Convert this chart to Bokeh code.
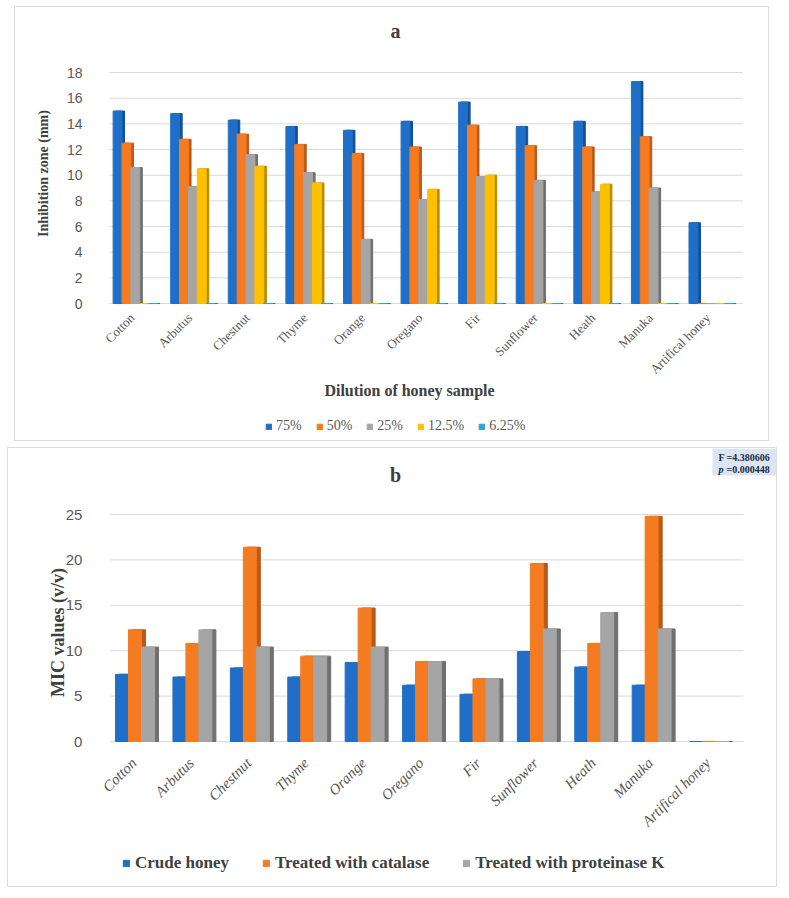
import math
from bokeh.plotting import figure
from bokeh.models import (ColumnDataSource, Range1d, FixedTicker, Legend,
                          LegendItem, Label, BoxAnnotation)
from bokeh.transform import dodge
from bokeh.layouts import column
from bokeh.embed import file_html
from bokeh.resources import INLINE

# ---------------- data ----------------
honeys = ["Cotton", "Arbutus", "Chestnut", "Thyme", "Orange", "Oregano",
          "Fir", "Sunflower", "Heath", "Manuka", "Artifical honey"]

dilution_labels = ["75%", "50%", "25%", "12.5%", "6.25%"]
zone_75 = [15.0, 14.8, 14.3, 13.8, 13.5, 14.2, 15.7, 13.8, 14.2, 17.3, 6.3]
zone_50 = [12.5, 12.8, 13.2, 12.4, 11.7, 12.2, 13.9, 12.3, 12.2, 13.0, 0]
zone_25 = [10.6, 9.1, 11.6, 10.2, 5.0, 8.1, 9.9, 9.6, 8.7, 9.0, 0]
zone_12_5 = [0, 10.5, 10.7, 9.4, 0, 8.9, 10.0, 0, 9.3, 0, 0]
zone_6_25 = [0, 0, 0, 0, 0, 0, 0, 0, 0, 0, 0]
zone_ticks = [0, 2, 4, 6, 8, 10, 12, 14, 16, 18]

mic_labels = ["Crude honey", "Treated with catalase", "Treated with proteinase K"]
mic_crude = [7.4, 7.1, 8.1, 7.1, 8.7, 6.2, 5.2, 9.9, 8.2, 6.2, 0]
mic_catalase = [12.3, 10.8, 21.4, 9.4, 14.7, 8.8, 6.9, 19.6, 10.8, 24.8, 0]
mic_proteinase = [10.4, 12.3, 10.4, 9.4, 10.4, 8.8, 6.9, 12.4, 14.2, 12.4, 0]
mic_ticks = [0, 5, 10, 15, 20, 25]

stat_F = "=4.380606"
stat_p = "=0.000448"

# ---------------- styles ----------------
SERIF = "Liberation Serif"
SANS = "Liberation Sans"
TICK_COLOR = "#595959"
LABEL_COLOR = "#404040"
GRID = "#d9d9d9"

faces_a = ["#1f6fc8", "#f47b20", "#a5a5a5", "#ffc000", "#2ba3db"]
sides_a = ["#134f96", "#b9591a", "#707070", "#b98a00", "#1e7aa8"]
faces_b = faces_a[:3]
sides_b = sides_a[:3]

positions = list(range(len(honeys)))


def base_fig(width, height, xr, yr, margin):
    p = figure(width=width, height=height, x_range=Range1d(*xr), y_range=Range1d(*yr),
               title=None, output_backend="svg", toolbar_location=None,
               min_border=0, margin=margin)
    p.styles = {"border": "1px solid #dcdcdc"}
    p.xgrid.visible = False
    p.ygrid.visible = False
    p.xaxis.visible = False
    p.outline_line_color = None
    for ax in p.yaxis:
        ax.axis_line_color = None
        ax.major_tick_line_color = None
        ax.minor_tick_line_color = None
        ax.fixed_location = -0.5
    return p


def lab(p, text, x, y, size, style="bold", color=LABEL_COLOR, angle=0.0,
        align="center", baseline="middle"):
    p.add_layout(Label(x=x, y=y, x_units="screen", y_units="screen", text=text,
                       text_font=SERIF, text_font_style=style, text_font_size=size,
                       text_color=color, angle=angle, text_align=align,
                       text_baseline=baseline))


# ---------------- panel a ----------------
pa = base_fig(755, 435, (-2.08, 11.03), (-10.83, 23.07), (6, 0, 6, 14))

pa.segment(x0=-0.45, x1=10.55, y0=zone_ticks, y1=zone_ticks, line_color=GRID, line_width=1)

src_a = ColumnDataSource(dict(pos=positions, name=honeys, s0=zone_75, s1=zone_50,
                              s2=zone_25, s3=zone_12_5, s4=zone_6_25))
step_a = 0.154
rend_a = []
for i in range(5):
    off = (i - 2) * step_a
    pa.vbar(x=dodge("pos", off + 0.045), top="s%d" % i, width=step_a, source=src_a,
            fill_color=sides_a[i], line_color=sides_a[i], line_width=1)
    r = pa.vbar(x=dodge("pos", off), top="s%d" % i, width=step_a, source=src_a,
                fill_color=faces_a[i], line_color=faces_a[i], line_width=1)
    rend_a.append(r)

# category labels (rotated, end anchored under each group)
pa.text(x="pos", y=0, text="name", source=src_a, angle=math.pi / 4,
        x_offset=-3, y_offset=12, text_align="right", text_baseline="middle",
        text_font=SERIF, text_font_size="13px", text_color=TICK_COLOR)

pa.yaxis.ticker = FixedTicker(ticks=zone_ticks)
pa.yaxis.major_label_text_font = SANS
pa.yaxis.major_label_text_font_size = "14px"
pa.yaxis.major_label_text_color = TICK_COLOR
pa.yaxis.major_label_standoff = 18

lab(pa, "a", 380, 412, "20px")
lab(pa, "Inhibition zone (mm)", 28, 269, "14px", angle=math.pi / 2)
lab(pa, "Dilution of honey sample", 394, 52, "16px")

leg_a = Legend(items=[LegendItem(label=l, renderers=[r]) for l, r in zip(dilution_labels, rend_a)],
               orientation="horizontal", location=(250, 8),
               glyph_width=7, glyph_height=7, label_height=14, label_standoff=4,
               spacing=14, padding=0, margin=0, border_line_color=None,
               background_fill_alpha=0, label_text_font=SERIF,
               label_text_font_size="14px", label_text_color=TICK_COLOR)
pa.add_layout(leg_a)

# ---------------- panel b ----------------
pb = base_fig(770, 440, (-2.204, 11.21), (-16.19, 32.27), (0, 0, 0, 7))

pb.segment(x0=-0.43, x1=10.6, y0=mic_ticks, y1=mic_ticks, line_color=GRID, line_width=1)

src_b = ColumnDataSource(dict(pos=positions, name=honeys, s0=mic_crude,
                              s1=mic_catalase, s2=mic_proteinase))
step_b = 0.226
rend_b = []
for i in range(3):
    off = (i - 1) * step_b
    pb.vbar(x=dodge("pos", off + 0.07), top="s%d" % i, width=step_b, source=src_b,
            fill_color=sides_b[i], line_color=sides_b[i], line_width=1)
    r = pb.vbar(x=dodge("pos", off), top="s%d" % i, width=step_b, source=src_b,
                fill_color=faces_b[i], line_color=faces_b[i], line_width=1)
    rend_b.append(r)

pb.text(x="pos", y=0, text="name", source=src_b, angle=math.pi / 4,
        x_offset=-1, y_offset=19, text_align="right", text_baseline="middle",
        text_font=SERIF, text_font_style="italic", text_font_size="15px",
        text_color=TICK_COLOR)

pb.yaxis.ticker = FixedTicker(ticks=mic_ticks)
pb.yaxis.major_label_text_font = SANS
pb.yaxis.major_label_text_font_size = "15px"
pb.yaxis.major_label_text_color = TICK_COLOR
pb.yaxis.major_label_standoff = 18

lab(pb, "b", 387, 414, "20px")
lab(pb, "MIC values (v/v)", 49, 256, "18px", angle=math.pi / 2)

leg_b = Legend(items=[LegendItem(label=l, renderers=[r]) for l, r in zip(mic_labels, rend_b)],
               orientation="horizontal", location=(114, 15),
               glyph_width=8, glyph_height=8, label_height=18, label_standoff=5,
               spacing=33, padding=0, margin=0, border_line_color=None,
               background_fill_alpha=0, label_text_font=SERIF,
               label_text_font_style="bold", label_text_font_size="17px",
               label_text_color=LABEL_COLOR)
pb.add_layout(leg_b)

# statistics box (top-right corner)
pb.add_layout(BoxAnnotation(left=10.06, right=11.21, top=32.27, bottom=29.3,
                            fill_color="#dce6f2", fill_alpha=1.0, line_color=None))
STAT_COLOR = "#1f2a44"
lab(pb, "F", 710, 431, "10px", color=STAT_COLOR, align="left")
lab(pb, stat_F, 718, 431, "10px", color=STAT_COLOR, align="left")
lab(pb, "p", 710, 419, "10px", style="bold italic", color=STAT_COLOR, align="left")
lab(pb, stat_p, 718, 419, "10px", color=STAT_COLOR, align="left")

layout = column(pa, pb, spacing=0)
open("out.html", "w").write(file_html(layout, INLINE))
